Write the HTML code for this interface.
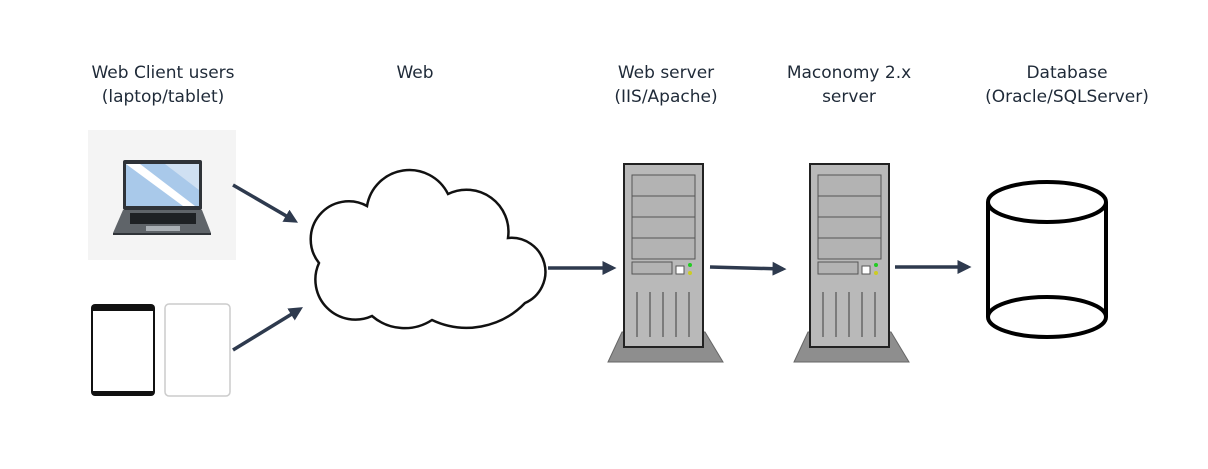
<!DOCTYPE html>
<html><head><style>
body{margin:0;width:1208px;height:469px;background:#fff;position:relative;overflow:hidden;font-family:"DejaVu Sans","Liberation Sans",sans-serif;}
.l{position:absolute;text-align:center;font-size:17px;line-height:24px;color:#1f2a38;width:240px;}
</style></head><body>
<div class="l" style="left:43px;top:61px">Web Client users<br>(laptop/tablet)</div>
<div class="l" style="left:295px;top:61px">Web</div>
<div class="l" style="left:546px;top:61px">Web server<br>(IIS/Apache)</div>
<div class="l" style="left:729px;top:61px">Maconomy 2.x<br>server</div>
<div class="l" style="left:947px;top:61px">Database<br>(Oracle/SQLServer)</div>
<svg width="1208" height="469" style="position:absolute;left:0;top:0">
<defs>
<marker id="a" markerWidth="4" markerHeight="4" refX="3" refY="2" orient="auto" markerUnits="strokeWidth"><path d="M0,0 L4,2 L0,4 z" fill="#2e3a4e"/></marker>
<g id="srv">
<polygon points="622,332 705,332 723,362 608,362" fill="#8e8e8e" stroke="#666" stroke-width="1"/>
<rect x="624" y="164" width="79" height="183" fill="#b9b9b9" stroke="#222" stroke-width="2"/>
<rect x="632" y="175" width="63" height="84" fill="#b3b3b3" stroke="#555" stroke-width="1"/>
<line x1="632" y1="196" x2="695" y2="196" stroke="#555"/>
<line x1="632" y1="217" x2="695" y2="217" stroke="#555"/>
<line x1="632" y1="238" x2="695" y2="238" stroke="#555"/>
<rect x="632" y="262" width="40" height="12" fill="#b3b3b3" stroke="#555"/>
<rect x="676" y="266" width="8" height="8" fill="#fff" stroke="#555"/>
<circle cx="690" cy="265" r="2" fill="#2c2"/>
<circle cx="690" cy="273" r="2" fill="#cc2"/>
<g stroke="#666" stroke-width="1.5"><line x1="637" y1="292" x2="637" y2="337"/><line x1="650" y1="292" x2="650" y2="337"/><line x1="663" y1="292" x2="663" y2="337"/><line x1="676" y1="292" x2="676" y2="337"/><line x1="689" y1="292" x2="689" y2="337"/></g>
</g>
</defs>
<rect x="88" y="130" width="148" height="130" fill="#f4f4f4"/>
<rect x="123" y="160" width="79" height="50" rx="2" fill="#2f3338"/>
<polygon points="126,164 199,164 199,206 126,206" fill="#a9c9ea"/>
<polygon points="126,164 140,164 195,206 183,206" fill="#fff"/>
<polygon points="165,164 199,164 199,190" fill="#cfe0f2"/>
<polygon points="123,210 202,210 211,233 113,233" fill="#5f6469"/>
<rect x="130" y="213" width="66" height="11" fill="#1e2124"/>
<rect x="146" y="226" width="34" height="5" fill="#aab0b5"/>
<rect x="113" y="233" width="98" height="2" fill="#2f3338"/>
<rect x="91" y="304" width="64" height="92" rx="4" fill="#111"/>
<rect x="93" y="311" width="60" height="80" fill="#fff"/>
<rect x="165" y="304" width="65" height="92" rx="4" fill="#fff" stroke="#ccc" stroke-width="1.5"/>
<path d="M319,263 A38,38 0 0 1 367,206 A43,43 0 0 1 448,194 A42,42 0 0 1 508,238 A34,34 0 0 1 525,303 A81,81 0 0 1 432,320 A50,50 0 0 1 372,316 A40,40 0 0 1 319,263 Z" fill="#fff" stroke="#111" stroke-width="2.5"/>
<use href="#srv"/>
<use href="#srv" x="186"/>
<g fill="none" stroke="#000" stroke-width="4">
<line x1="988" y1="202" x2="988" y2="317"/><line x1="1106" y1="202" x2="1106" y2="317"/>
<ellipse cx="1047" cy="317" rx="59" ry="20" fill="#fff"/>
<ellipse cx="1047" cy="202" rx="59" ry="20" fill="#fff"/>
</g>
<g stroke="#2e3a4e" stroke-width="3.5" marker-end="url(#a)">
<line x1="233" y1="185" x2="295" y2="221"/>
<line x1="233" y1="350" x2="300" y2="309"/>
<line x1="548" y1="268" x2="613" y2="268"/>
<line x1="710" y1="267" x2="783" y2="269"/>
<line x1="895" y1="267" x2="968" y2="267"/>
</g>
</svg>
</body></html>
